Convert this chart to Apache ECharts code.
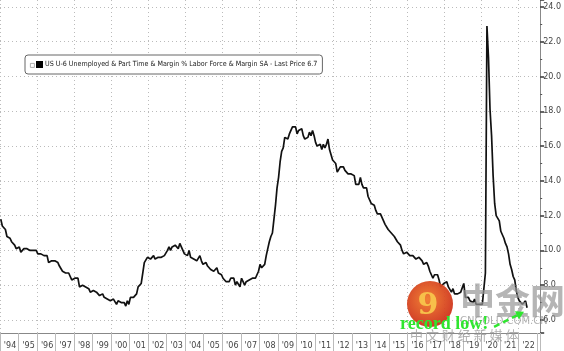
<!DOCTYPE html>
<html><head><meta charset="utf-8">
<script src="https://cdn.jsdelivr.net/npm/echarts@6/dist/echarts.min.js"></script>
<style>html,body{margin:0;padding:0;background:#fff}#c{width:564px;height:351px}</style>
</head><body><div id="c"></div>
<script>
// ---- data ----
const firstYear = 1994;
const lastCategory = '2023-02';
const yearLabels = ["'94","'95","'96","'97","'98","'99","'00","'01","'02","'03","'04","'05","'06","'07","'08","'09","'10","'11","'12","'13","'14","'15","'16","'17","'18","'19","'20","'21","'22"];
const u6_1994_1999 = [
  11.8,11.4,11.4,11.2,10.8,10.9,10.7,10.5,10.4,10.3,10.1,10.0,
  10.2,9.9,9.9,10.1,10.1,10.1,10.1,10.0,10.1,10.0,10.0,10.0,
  9.8,9.8,9.8,9.7,9.7,9.6,9.7,9.3,9.4,9.4,9.3,9.4,
  9.4,9.3,9.1,9.1,8.8,8.9,8.7,8.6,8.7,8.5,8.3,8.4,
  8.4,8.4,8.4,7.9,7.8,8.0,8.1,7.9,7.9,7.8,7.6,7.6,
  7.7,7.7,7.6,7.6,7.4,7.5,7.5,7.3,7.4,7.2,7.1,7.1
];
const u6_2000_2007 = [
  7.1,7.2,7.1,6.9,7.1,7.0,7.0,7.1,7.0,6.8,7.1,6.9,
  7.3,7.4,7.3,7.4,7.5,7.9,7.8,8.1,8.7,9.3,9.4,9.6,
  9.5,9.5,9.4,9.7,9.5,9.5,9.6,9.6,9.6,9.6,9.7,9.8,
  10.0,10.2,10.0,10.2,10.1,10.3,10.3,10.1,10.4,10.2,10.0,9.8,
  9.9,9.7,10.0,9.6,9.6,9.5,9.5,9.4,9.4,9.7,9.4,9.2,
  9.3,9.3,9.1,9.0,8.9,9.0,8.8,8.9,9.0,8.7,8.7,8.6,
  8.4,8.4,8.2,8.1,8.2,8.4,8.5,8.4,8.0,8.2,8.1,7.9,
  8.4,8.2,8.0,8.2,8.2,8.3,8.4,8.4,8.4,8.4,8.4,8.8
];
const u6_2008_2015 = [
  9.2,9.0,9.1,9.2,9.7,10.1,10.5,10.8,11.0,11.8,12.6,13.6,
  14.2,15.1,15.7,15.9,16.5,16.5,16.4,16.7,16.7,17.1,17.1,17.1,
  16.7,16.9,16.9,17.0,16.6,16.4,16.4,16.5,16.8,16.6,16.9,16.6,
  16.2,16.0,15.9,16.1,15.8,16.1,15.9,16.1,16.4,15.8,15.5,15.2,
  15.2,15.0,14.5,14.6,14.8,14.8,14.8,14.6,14.7,14.4,14.4,14.4,
  14.5,14.3,13.8,13.9,13.8,14.2,13.8,13.6,13.5,13.6,13.1,13.1,
  12.7,12.6,12.6,12.3,12.1,12.0,12.1,12.0,11.7,11.5,11.4,11.2,
  11.3,11.0,10.9,10.8,10.7,10.5,10.4,10.3,10.0,9.8,9.9,9.9
];
const u6_2016_2022 = [
  9.8,9.7,9.8,9.7,9.6,9.5,9.6,9.6,9.7,9.4,9.2,9.1,
  9.3,9.1,8.8,8.6,8.4,8.6,8.5,8.6,8.3,7.9,8.0,8.1,
  8.2,8.2,7.9,7.8,7.6,7.8,7.5,7.4,7.5,7.4,7.6,7.6,
  8.1,7.3,7.3,7.3,7.1,7.2,7.0,7.2,6.9,7.0,6.9,6.8,
  6.9,7.0,8.7,22.9,21.1,18.1,16.6,14.3,12.7,12.0,12.1,11.7,
  11.1,11.1,10.7,10.4,10.2,9.8,9.2,8.9,8.5,8.3,7.7,7.3,
  7.1,7.2,6.9,7.0,7.1,6.7
];
const lastPrice = 6.7;
const seriesName = 'US U-6 Unemployed & Part Time & Margin % Labor Force & Margin SA - Last Price 6.7';
const annotationText = 'record low!';
const watermarkMain = '中金网';
const watermarkSite = 'CNGOLD.COM.CN';
const watermarkSub = '中 文 财 经 新 媒 体';

// ---- build ----
const u6 = [].concat(u6_1994_1999, u6_2000_2007, u6_2008_2015, u6_2016_2022);
const months = [];
for (let y = firstYear; ; y++) {
  let done = false;
  for (let m = 1; m <= 12; m++) {
    const k = y + '-' + (m < 10 ? '0' + m : m);
    months.push(k);
    if (k === lastCategory) { done = true; break; }
  }
  if (done) break;
}
const monthOf = i => i % 12;
const yearIdx = i => Math.floor(i / 12);

const chart = echarts.init(document.getElementById('c'), null, {renderer: 'canvas'});
const axisFont = {fontFamily: 'DejaVu Sans, sans-serif', fontSize: 8, color: '#444'};
chart.setOption({
  animation: false,
  backgroundColor: '#fff',
  grid: {left: -2, right: 21, top: 0, bottom: 18, containLabel: false},
  legend: {
    left: 25, top: 55,
    data: [{name: seriesName, icon: 'rect'}],
    itemWidth: 7, itemHeight: 7, itemGap: 4,
    backgroundColor: '#fff', borderColor: '#666', borderWidth: 1, borderRadius: 3,
    padding: [6, 5, 6, 11],
    textStyle: {fontFamily: 'DejaVu Sans Condensed, sans-serif', fontSize: 7.1, color: '#222', padding: [0,0,0,-3]},
    selectedMode: false
  },
  xAxis: {
    type: 'category', data: months, boundaryGap: true,
    axisLine: {show: true, lineStyle: {color: '#888', width: 1}},
    axisTick: {show: true, length: 18, lineStyle: {color: '#bbb'}, interval: (i) => monthOf(i) === 0},
    axisLabel: {show: true, margin: 9, interval: (i) => monthOf(i) === 6,
      formatter: (v, i) => yearLabels[yearIdx(i)] || '', ...axisFont},
    splitLine: {show: true, interval: (i) => monthOf(i) === 0 && yearIdx(i) % 2 === 0,
      lineStyle: {color: '#bbb', type: [1, 3], width: 1}}
  },
  yAxis: {
    type: 'value', position: 'right', min: 5.25, max: 24.4,
    splitNumber: 10, minInterval: 2, maxInterval: 2,
    axisLine: {show: true, lineStyle: {color: '#888', width: 1}},
    axisTick: {show: true, inside: false, length: 4, lineStyle: {color: '#333', width: 1.5}},
    minorTick: {show: true, splitNumber: 2, length: 2, lineStyle: {color: '#555'}},
    axisLabel: {show: true, margin: 3, showMinLabel: false, showMaxLabel: false,
      formatter: v => v.toFixed(1), ...axisFont},
    splitLine: {show: true, showMinLine: false, showMaxLine: false, lineStyle: {color: '#bbb', type: [1, 3], width: 1}}
  },
  series: [{
    name: seriesName, type: 'line', data: u6, showSymbol: false, symbol: 'none',
    lineStyle: {color: '#111', width: 1.7}, itemStyle: {color: '#000'},
    markLine: {
      silent: true, symbol: 'none',
      lineStyle: {opacity: 0},
      data: [{yAxis: lastPrice}],
      label: {show: true, position: 'end', distance: 0, formatter: () => lastPrice.toFixed(1),
        backgroundColor: '#000', color: '#fff', fontFamily: 'DejaVu Sans, sans-serif', fontSize: 8,
        padding: [2, 5, 2, 3]}
    }
  }]
});

// annotations (watermark + "record low!" arrow anchored to the last data point)
const lastIdx = u6.length - 1;
const p = chart.convertToPixel({xAxisIndex: 0, yAxisIndex: 0}, [lastIdx, u6[lastIdx]]);
const tip = [p[0] - 3, p[1] + 4];
const tail = [p[0] - 33, p[1] + 19];
const ang = Math.atan2(tip[1] - tail[1], tip[0] - tail[0]);
const ah = 8, aw = 4.5;
const base = [tip[0] - ah * Math.cos(ang), tip[1] - ah * Math.sin(ang)];
const nx = -Math.sin(ang), ny = Math.cos(ang);
chart.setOption({
  graphic: [
    {type: 'rect', left: 30, top: 63, shape: {width: 4, height: 4}, style: {fill: '#fff', stroke: '#999', lineWidth: 0.8}, z: 100},
    {type: 'circle', shape: {cx: 430, cy: 304, r: 23},
      style: {fill: new echarts.graphic.RadialGradient(0.45, 0.4, 0.7, [{offset: 0, color: '#f07a2a'}, {offset: 1, color: '#c8261a'}]), opacity: 0.95}, z: 50},
    {type: 'text', x: 428, y: 306, style: {text: '9', fill: '#f7c04a', font: 'bold 30px DejaVu Serif, serif', align: 'center', verticalAlign: 'middle'}, z: 51},
    {type: 'text', x: 460, y: 283, style: {text: watermarkMain, fill: 'rgba(150,150,150,0.7)', font: 'bold 35px "Noto Sans CJK SC", sans-serif'}, z: 50},
    {type: 'text', x: 460, y: 316, style: {text: watermarkSite, fill: 'rgba(150,150,150,0.75)', font: '10px DejaVu Sans, sans-serif'}, z: 50},
    {type: 'text', x: 410, y: 329, style: {text: watermarkSub, fill: 'rgba(150,150,150,0.75)', font: '13px "Noto Sans CJK SC", sans-serif'}, z: 50},
    {type: 'text', x: 400, y: 315, style: {text: annotationText, fill: '#2fe62f', font: 'bold 18px Liberation Serif, serif'}, z: 60},
    {type: 'line', shape: {x1: tail[0], y1: tail[1], x2: base[0], y2: base[1]},
      style: {stroke: '#2fe62f', lineWidth: 2.5, lineDash: [6, 4]}, z: 60},
    {type: 'polygon', shape: {points: [tip, [base[0] + nx * aw, base[1] + ny * aw], [base[0] - nx * aw, base[1] - ny * aw]]},
      style: {fill: '#2fe62f'}, z: 60}
  ]
});
</script></body></html>
